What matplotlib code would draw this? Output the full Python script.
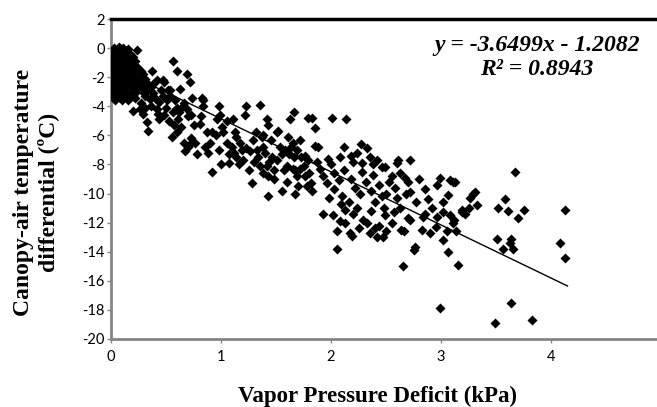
import numpy as np
import matplotlib
matplotlib.use("Agg")
import matplotlib.pyplot as plt

# Regression shown on the chart
slope = -3.6499
intercept = -1.2082
r2 = 0.8943

# Dense cluster at very low VPD (x, y)
cluster_pts = [
    (0.03, 0.0), (0.07, 0.05), (0.11, 0.0), (0.15, -0.05),
    (0.01, -0.3), (0.05, -0.25), (0.09, -0.35), (0.13, -0.3), (0.17, -0.4), (0.24, -0.1),
    (0.0, -0.6), (0.04, -0.65), (0.08, -0.55), (0.12, -0.6), (0.16, -0.7), (0.2, -0.6),
    (0.02, -0.9), (0.06, -0.95), (0.1, -0.85), (0.14, -0.9), (0.18, -1.0), (0.22, -0.9),
    (0.0, -1.2), (0.04, -1.25), (0.08, -1.15), (0.12, -1.2), (0.16, -1.3), (0.2, -1.2), (0.24, -1.3),
    (0.02, -1.5), (0.06, -1.55), (0.1, -1.45), (0.14, -1.5), (0.18, -1.6), (0.22, -1.5), (0.27, -1.6),
    (0.0, -1.8), (0.04, -1.85), (0.08, -1.75), (0.12, -1.8), (0.16, -1.9), (0.2, -1.8), (0.25, -1.9), (0.29, -1.8),
    (0.02, -2.1), (0.06, -2.15), (0.1, -2.05), (0.14, -2.1), (0.18, -2.2), (0.22, -2.1), (0.27, -2.2), (0.31, -2.1),
    (0.0, -2.4), (0.04, -2.45), (0.08, -2.35), (0.12, -2.4), (0.16, -2.5), (0.21, -2.4), (0.26, -2.5), (0.33, -2.4),
    (0.02, -2.7), (0.06, -2.75), (0.1, -2.65), (0.14, -2.7), (0.19, -2.8), (0.24, -2.7), (0.29, -2.8), (0.36, -2.7),
    (0.0, -3.0), (0.05, -3.05), (0.09, -2.95), (0.13, -3.0), (0.18, -3.1), (0.23, -3.0), (0.3, -3.1),
    (0.02, -3.3), (0.07, -3.35), (0.12, -3.25), (0.17, -3.3), (0.22, -3.4),
    (0.04, -3.6), (0.1, -3.55), (0.15, -3.6),
]

# VPD up to ~1 kPa
low_pts = [
    (0.56, -0.9), (0.6, -1.6), (0.37, -1.6), (0.47, -2.2), (0.69, -1.8), (0.72, -2.3),
    (0.63, -2.8), (0.74, -3.4), (0.83, -3.4), (0.52, -2.9), (0.2, -4.3), (0.26, -4.2),
    (0.31, -4.1), (0.29, -4.5), (0.33, -5.1), (0.34, -5.7), (0.42, -2.2), (0.45, -2.9),
    (0.48, -2.3), (0.42, -4.2), (0.43, -4.5), (0.51, -3.6), (0.54, -3.3), (0.54, -2.9),
    (0.58, -3.6), (0.6, -4.1), (0.55, -6.1), (0.6, -5.8), (0.61, -4.9), (0.64, -5.4),
    (0.66, -6.5), (0.67, -7.1), (0.7, -6.8), (0.73, -6.5), (0.76, -6.5), (0.78, -7.3),
    (0.73, -6.2), (0.69, -4.2), (0.7, -4.7), (0.73, -4.6), (0.75, -5.3), (0.81, -5.2),
    (0.82, -4.7), (0.84, -4.0), (0.84, -3.6), (0.87, -5.8), (0.85, -6.8), (0.92, -5.8),
    (0.92, -8.5), (0.95, -6.0), (0.96, -4.9), (0.98, -4.0), (0.99, -4.6),
    (0.3, -2.6), (0.34, -2.9), (0.38, -3.1), (0.35, -3.5), (0.4, -3.4), (0.44, -3.7),
    (0.47, -3.3), (0.38, -2.5), (0.31, -3.3), (0.27, -3.8), (0.36, -4.0), (0.5, -4.1),
    (0.48, -4.6), (0.56, -4.4), (0.53, -5.0), (0.57, -5.3), (0.62, -4.4), (0.66, -3.8),
    (0.64, -4.1), (0.44, -4.9), (0.9, -6.5), (0.98, -7.0), (0.88, -7.2),
]

# VPD 1 - 2 kPa
mid_pts = [
    (1.01, -5.4), (1.02, -5.8), (1.05, -6.5), (1.07, -7.3), (1.07, -7.9), (1.11, -4.9),
    (1.13, -5.8), (1.14, -7.5), (1.14, -6.1), (1.17, -6.5), (1.19, -7.0), (1.2, -7.7),
    (1.22, -4.6), (1.23, -4.0), (1.23, -6.9), (1.26, -7.1), (1.28, -9.3), (1.29, -6.3),
    (1.32, -5.8), (1.34, -7.5), (1.35, -3.9), (1.35, -8.1), (1.37, -6.1), (1.38, -6.8),
    (1.4, -7.2), (1.42, -8.1), (1.42, -4.9), (1.43, -8.8), (1.43, -10.2), (1.45, -6.3),
    (1.46, -7.5), (1.48, -8.4), (1.51, -7.7), (1.52, -5.7), (1.54, -6.8), (1.55, -7.3),
    (1.57, -8.4), (1.6, -8.1), (1.61, -6.1), (1.63, -4.9), (1.64, -6.8), (1.66, -4.4),
    (1.66, -7.5), (1.67, -8.4), (1.67, -10.0), (1.69, -7.0), (1.72, -6.3), (1.73, -7.5),
    (1.75, -8.1), (1.76, -8.8), (1.78, -9.5), (1.79, -4.8), (1.79, -7.7), (1.43, -5.3),
    (1.51, -5.8), (1.38, -6.0), (1.65, -6.5), (1.33, -7.0), (1.38, -8.6), (1.65, -8.3),
    (1.7, -9.5), (1.83, -9.8), (1.87, -7.8), (1.96, -9.3), (1.85, -6.7), (1.88, -6.8),
    (1.83, -4.8), (1.85, -5.5), (1.76, -7.4), (1.62, -7.3), (1.58, -7.0), (1.1, -6.8),
    (1.16, -8.0), (1.25, -8.4), (1.48, -9.0), (1.55, -9.8), (1.6, -9.2), (1.05, -5.0),
    (1.0, -8.0), (1.12, -7.2), (1.3, -7.8), (1.44, -7.8), (1.69, -8.8), (1.72, -8.3),
    (1.8, -8.6), (1.82, -9.3), (1.9, -8.3), (1.93, -8.8),
]

# VPD 2 - 2.5 kPa
upper_pts = [
    (2.01, -4.8), (2.14, -4.9), (2.08, -7.5), (2.24, -7.2), (2.2, -7.8), (2.35, -7.5),
    (2.42, -7.7), (2.49, -8.2), (2.33, -6.9), (2.46, -8.2), (2.13, -11.1), (2.33, -12.0),
    (2.13, -12.0), (2.05, -12.6), (2.19, -12.9), (2.46, -10.2), (2.05, -13.8), (2.42, -13.0),
    (2.35, -12.7), (2.29, -11.8), (2.17, -12.7), (2.08, -11.9), (2.2, -11.4), (2.02, -11.5),
    (1.93, -11.4), (2.0, -8.0), (2.03, -8.6), (2.07, -9.1), (2.1, -10.2), (2.12, -8.4),
    (2.18, -9.0), (2.22, -9.6), (2.26, -10.0), (2.28, -8.5), (2.32, -9.2), (2.36, -9.8),
    (2.38, -8.7), (2.4, -10.6), (2.44, -9.4), (2.48, -11.0), (2.5, -10.0), (2.16, -10.6),
    (2.24, -11.0), (2.36, -11.2), (2.44, -12.2), (2.4, -12.4), (2.25, -12.4), (2.09, -10.7),
    (1.98, -10.3), (2.03, -9.7), (1.97, -7.6), (2.28, -7.9), (2.38, -8.0), (2.12, -6.8),
    (2.18, -7.4), (2.27, -6.6), (2.5, -12.6), (2.47, -13.0),
]

# VPD above 2.5 kPa
high_pts = [
    (2.61, -7.7), (2.72, -7.7), (2.67, -8.9), (2.63, -8.6), (2.99, -8.9), (3.08, -9.1),
    (3.11, -9.2), (3.29, -10.0), (2.96, -9.4), (2.85, -9.7), (3.06, -10.1), (2.72, -9.9),
    (2.49, -11.5), (2.85, -11.4), (2.63, -11.0), (3.13, -9.2), (3.19, -11.1), (2.7, -11.7),
    (2.64, -12.5), (3.14, -12.6), (2.76, -13.7), (3.06, -14.0), (2.65, -15.0), (3.15, -14.9),
    (3.02, -13.2), (2.75, -13.9), (2.66, -12.6), (3.02, -10.6), (3.26, -10.3), (3.33, -10.8),
    (2.84, -11.6), (2.72, -11.8), (2.83, -12.5), (2.9, -12.7), (2.95, -12.3), (3.02, -11.3),
    (3.19, -11.3), (3.11, -12.0), (3.05, -12.6), (2.99, -17.9), (2.55, -8.8), (2.58, -9.6),
    (2.6, -10.3), (2.68, -10.0), (2.7, -9.2), (2.77, -10.6), (2.8, -9.0), (2.88, -10.4),
    (2.92, -11.0), (2.96, -11.6), (3.08, -11.5), (3.12, -11.8), (3.22, -11.4), (3.25, -11.0),
    (2.57, -11.3), (2.55, -12.0), (2.6, -7.9), (2.53, -9.2), (3.31, -9.9),
    (3.67, -8.5), (3.58, -10.4), (3.52, -11.0), (3.61, -11.2), (3.7, -11.7), (3.75, -11.1),
    (4.13, -11.1), (3.51, -13.1), (3.56, -13.8), (3.65, -13.8), (3.63, -13.4), (3.64, -13.1),
    (4.08, -13.4), (4.13, -14.4), (3.64, -17.5), (3.49, -18.9), (3.83, -18.7),
]

x_ticks = [0, 1, 2, 3, 4]
y_ticks = list(range(-20, 3, 2))

pts = cluster_pts + low_pts + mid_pts + upper_pts + high_pts
vpd = np.array([p[0] for p in pts])
dt = np.array([p[1] for p in pts])

fig = plt.figure(figsize=(6.57, 4.07), dpi=100)
ax = fig.add_axes([111 / 657, 68 / 407, 550 / 657, 320 / 407])

ax.scatter(vpd, dt, marker="D", s=26, color="black", linewidths=0, zorder=3)

fit_x = np.array([0, 4.15])
ax.plot(fit_x, slope * fit_x + intercept, color="black", lw=1.0, zorder=2)

ax.set_xlim(0, 5)
ax.set_ylim(-20, 2)
ax.set_xticks(x_ticks)
ax.set_yticks(y_ticks)
ax.set_xticklabels([str(t) for t in x_ticks])
ax.set_yticklabels([str(t) for t in y_ticks])

for side in ["left", "bottom"]:
    ax.spines[side].set_color("#858585")
    ax.spines[side].set_linewidth(2)
ax.spines["top"].set_color("black")
ax.spines["top"].set_linewidth(2.5)
ax.spines["right"].set_visible(False)

ax.tick_params(axis="both", direction="out", length=3, width=1, color="#858585",
               labelsize=10.5, labelcolor="black")
ax.tick_params(axis="x", pad=5)
ax.tick_params(axis="y", pad=1.5)
for lab in ax.get_xticklabels() + ax.get_yticklabels():
    lab.set_family("Lato")

serif = "Liberation Serif"
fig.text(377 / 657, 1 - 396 / 407, "Vapor Pressure Deficit (kPa)", family=serif,
         fontweight="bold", fontsize=16.5, ha="center", va="center")
fig.text(36 / 657, 1 - 192 / 407, "Canopy-air temperature\ndifferential (ºC)",
         family=serif, fontweight="bold", fontsize=17, ha="center", va="center",
         rotation=90, multialignment="center", linespacing=1.15)

ax.text(3.87, 0.2, f"y = {slope}x - {abs(intercept)}", family=serif,
        style="italic", fontweight="bold", fontsize=17, ha="center", va="center")
ax.text(3.87, -1.5, f"R² = {r2}", family=serif, style="italic",
        fontweight="bold", fontsize=17, ha="center", va="center")

fig.savefig("out.png", dpi=100)
